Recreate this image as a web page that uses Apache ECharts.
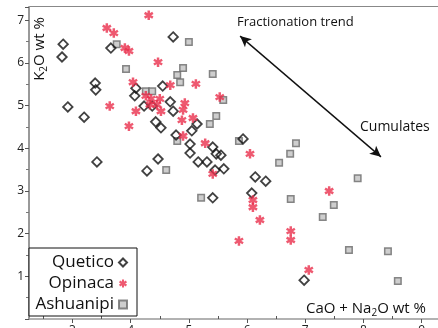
<!DOCTYPE html>
<html>
<head>
<meta charset="utf-8">
<script src="https://cdn.jsdelivr.net/npm/echarts@6/dist/echarts.min.js"></script>
<style>
  html, body { margin: 0; padding: 0; background: #fff; }
  #chart { width: 438px; height: 328px; }
</style>
</head>
<body>
<div id="chart"></div>
<script>
// CaO + Na2O (x) vs K2O (y), wt %
var quetico = [
  [2.84, 6.44], [2.82, 6.14], [3.66, 6.35], [3.39, 5.53], [3.40, 5.37],
  [2.92, 4.97], [3.20, 4.73], [3.42, 3.68], [4.09, 5.41], [4.07, 5.23],
  [4.23, 4.99], [4.37, 4.99], [4.73, 6.61], [4.55, 5.46], [4.68, 5.09],
  [4.73, 4.87], [4.43, 4.62], [4.52, 4.48], [5.14, 4.57], [5.05, 4.41],
  [4.78, 4.31], [5.02, 4.10], [5.02, 3.89], [5.41, 4.03], [5.47, 3.87],
  [5.55, 3.84], [4.47, 3.75], [4.28, 3.47], [5.31, 3.68], [5.16, 3.68],
  [5.45, 3.49], [5.60, 3.52], [5.41, 2.84], [5.93, 4.22], [6.14, 3.33],
  [6.32, 3.23], [6.08, 2.95], [6.98, 0.91]
]
var opinaca = [
  [4.31, 7.12], [3.59, 6.82], [3.71, 6.70], [3.90, 6.35], [3.97, 6.28],
  [4.47, 6.02], [4.04, 5.55], [3.64, 4.99], [4.09, 4.87], [3.97, 4.52],
  [4.26, 5.23], [4.35, 5.16], [4.50, 5.16], [4.45, 5.02], [4.33, 5.02],
  [4.52, 4.87], [4.68, 5.48], [5.12, 5.51], [4.93, 5.06], [4.90, 4.90],
  [4.88, 4.66], [5.07, 4.71], [4.90, 4.29], [5.28, 4.12], [5.53, 5.20],
  [5.41, 3.40], [6.05, 3.87], [6.10, 2.79], [6.10, 2.62], [6.22, 2.32],
  [5.86, 1.83], [6.75, 2.06], [6.75, 1.85], [7.06, 1.15], [7.41, 3.00]
]
var ashuanipi = [
  [3.76, 6.44], [3.92, 5.86], [4.26, 5.34], [4.37, 5.34], [5.00, 6.49],
  [4.90, 5.88], [4.80, 5.72], [4.85, 5.55], [5.41, 5.74], [5.59, 5.13],
  [5.47, 4.76], [5.36, 4.57], [5.86, 4.17], [4.80, 4.17], [4.61, 3.49],
  [5.21, 2.84], [6.84, 4.12], [6.74, 3.87], [6.55, 3.66], [6.75, 2.81],
  [7.49, 2.67], [7.30, 2.39], [7.90, 3.30], [7.75, 1.62], [8.42, 1.59],
  [8.59, 0.89]
]
var xTicks = [3, 4, 5, 6, 7, 8, 9]
var xMinorTicks = [2.5, 3.5, 4.5, 5.5, 6.5, 7.5, 8.5]
var trendStart = [5.88, 6.63]
var trendEnd = [8.30, 3.80]

// 6-spoke asterisk, three crossing bars
var asterisk = 'path://M-1.3 5L1.3 5L1.3 -5L-1.3 -5Z' +
  'M3.68 3.63L4.98 1.38L-3.68 -3.63L-4.98 -1.38Z' +
  'M4.98 -1.38L3.68 -3.63L-4.98 1.38L-3.68 3.63Z'

var FONT = 'Open Sans'
var myChart = echarts.init(document.getElementById('chart'))
var options = {
  animation: false,
  textStyle: { fontFamily: FONT },
  grid: { left: 29, right: 0, top: 7, bottom: 9, outerBoundsMode: 'none', containLabel: false },
  xAxis: [
    {
      type: 'value',
      position: 'bottom',
      min: 2.253,
      max: 9.28,
      splitLine: { show: false },
      axisLine: { lineStyle: { color: '#999', width: 1.5 } },
      axisTick: { customValues: xTicks, length: 4, lineStyle: { color: '#555' } },
      axisLabel: { customValues: xTicks, margin: 6, color: '#222', fontSize: 12 },
    },
    {
      type: 'value',
      position: 'bottom',
      min: 2.253,
      max: 9.28,
      splitLine: { show: false },
      axisLine: { show: false },
      axisTick: { customValues: xMinorTicks, inside: true, length: 3, lineStyle: { color: '#555' } },
      axisLabel: { show: false },
    },
  ],
  yAxis: {
    type: 'value',
    min: 0,
    max: 7.312,
    interval: 1,
    splitLine: { show: false },
    axisLine: { lineStyle: { color: '#999', width: 2 } },
    axisTick: { length: 4, lineStyle: { color: '#555' } },
    minorTick: { show: true, splitNumber: 2, length: 3, lineStyle: { color: '#777' } },
    axisLabel: { margin: 5, color: '#222', fontSize: 12, showMinLabel: false, showMaxLabel: false },
  },
  legend: {
    data: ['Quetico', 'Opinaca', 'Ashuanipi'],
    orient: 'vertical',
    left: 29,
    top: 248,
    align: 'right',
    padding: [6, 9, 3, 4],
    itemGap: 4,
    itemWidth: 8,
    itemHeight: 8,
    borderColor: '#111',
    borderWidth: 1,
    backgroundColor: '#fff',
    formatter: '{n|{name}}',
    textStyle: {
      color: '#111',
      fontFamily: FONT,
      fontSize: 17,
      rich: { n: { width: 81, fontSize: 17, lineHeight: 18, fontFamily: FONT } },
    },
  },
  graphic: [
    {
      type: 'line',
      shape: { x1: 29, y1: 6.5, x2: 438, y2: 6.5 },
      style: { stroke: '#888', lineWidth: 1.2 },
    },
    {
      type: 'text',
      x: 40,
      y: 49,
      rotation: Math.PI / 2,
      style: {
        text: '{a|K}{s|2}{a|O wt %}',
        align: 'center',
        verticalAlign: 'middle',
        fill: '#111',
        rich: {
          a: { fontSize: 15, lineHeight: 18, fontFamily: FONT, fill: '#111' },
          s: { fontSize: 10, lineHeight: 10, verticalAlign: 'bottom', fontFamily: FONT, fill: '#111' },
        },
      },
    },
    {
      type: 'text',
      x: 237,
      y: 22,
      style: { text: 'Fractionation trend', fontSize: 13, fontFamily: FONT, fill: '#111', verticalAlign: 'middle' },
    },
    {
      type: 'text',
      x: 360,
      y: 127,
      style: { text: 'Cumulates', fontSize: 14, fontFamily: FONT, fill: '#111', verticalAlign: 'middle' },
    },
    {
      type: 'text',
      x: 306,
      y: 309,
      style: {
        text: '{a|CaO + Na}{s|2}{a|O wt %}',
        verticalAlign: 'middle',
        fill: '#111',
        rich: {
          a: { fontSize: 15, lineHeight: 18, fontFamily: FONT, fill: '#111' },
          s: { fontSize: 10, lineHeight: 10, verticalAlign: 'bottom', fontFamily: FONT, fill: '#111' },
        },
      },
    },
  ],
  series: [
    {
      name: 'Ashuanipi',
      type: 'scatter',
      symbol: 'rect',
      symbolSize: 6.5,
      itemStyle: { color: '#c2c2c2', borderColor: '#6a6a6a', borderWidth: 1.5 },
      data: ashuanipi,
      z: 2,
    },
    {
      name: 'Quetico',
      type: 'scatter',
      symbol: 'diamond',
      symbolSize: 9.5,
      itemStyle: { color: 'rgba(255,255,255,0)', borderColor: '#111', borderWidth: 1.8 },
      data: quetico,
      z: 3,
      markLine: {
        silent: true,
        symbol: ['arrow', 'arrow'],
        symbolSize: [8, 11],
        label: { show: false },
        lineStyle: { color: '#111', width: 1.4, type: 'solid' },
        data: [[{ coord: trendStart }, { coord: trendEnd }]],
      },
    },
    {
      name: 'Opinaca',
      type: 'scatter',
      symbol: asterisk,
      symbolSize: 9.5,
      itemStyle: { color: '#ea2f4c' },
      data: opinaca,
      z: 4,
    },
  ],
}
myChart.setOption(options)
</script>
</body>
</html>
